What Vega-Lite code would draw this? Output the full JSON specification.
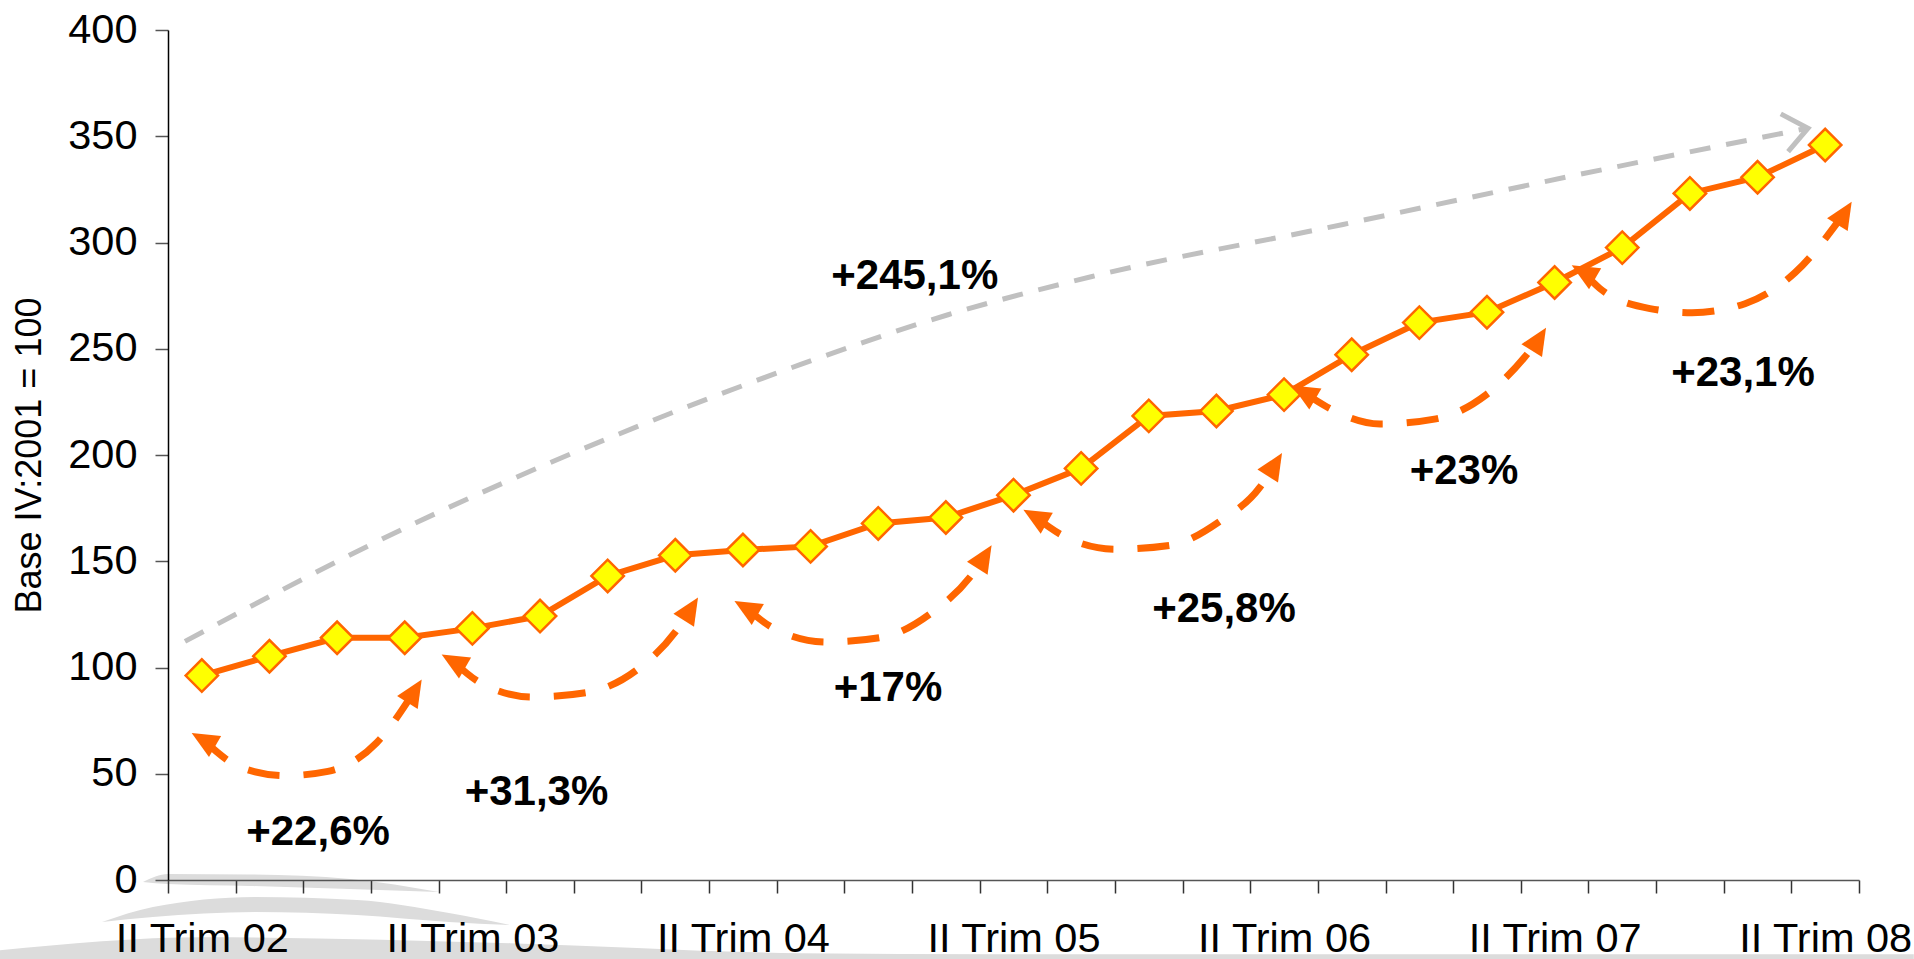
{
  "$schema": "https://vega.github.io/schema/vega-lite/v6.json",
  "autosize": "none",
  "width": 1691,
  "height": 850,
  "padding": {"left": 168, "top": 30, "right": 55, "bottom": 79},
  "background": "white",
  "config": {"view": {"stroke": null}, "font": "Liberation Sans"},
  "datasets": {
    "series": [
      {"quarter": "II Trim 02", "index": 96.2},
      {"quarter": "III Trim 02", "index": 105.3},
      {"quarter": "IV Trim 02", "index": 114.0},
      {"quarter": "I Trim 03", "index": 114.0},
      {"quarter": "II Trim 03", "index": 118.4},
      {"quarter": "III Trim 03", "index": 124.2},
      {"quarter": "IV Trim 03", "index": 143.1},
      {"quarter": "I Trim 04", "index": 152.8},
      {"quarter": "II Trim 04", "index": 155.3},
      {"quarter": "III Trim 04", "index": 157.0},
      {"quarter": "IV Trim 04", "index": 167.8},
      {"quarter": "I Trim 05", "index": 170.6},
      {"quarter": "II Trim 05", "index": 181.1},
      {"quarter": "III Trim 05", "index": 193.7},
      {"quarter": "IV Trim 05", "index": 218.4},
      {"quarter": "I Trim 06", "index": 220.7},
      {"quarter": "II Trim 06", "index": 228.4},
      {"quarter": "III Trim 06", "index": 247.2},
      {"quarter": "IV Trim 06", "index": 262.3},
      {"quarter": "I Trim 07", "index": 267.2},
      {"quarter": "II Trim 07", "index": 281.2},
      {"quarter": "III Trim 07", "index": 297.6},
      {"quarter": "IV Trim 07", "index": 323.1},
      {"quarter": "I Trim 08", "index": 330.7},
      {"quarter": "II Trim 08", "index": 345.9}
    ],
    "swoosh": [
      {"shape": "a", "x": -0.37, "top": -0.94, "bottom": -0.94},
      {"shape": "a", "x": 0.0, "top": 2.83, "bottom": -1.89},
      {"shape": "a", "x": 1.212, "top": 2.59, "bottom": -2.83},
      {"shape": "a", "x": 2.691, "top": 0.47, "bottom": -4.25},
      {"shape": "a", "x": 4.006, "top": -5.66, "bottom": -5.66},
      {"shape": "b", "x": -0.976, "top": -19.81, "bottom": -19.81},
      {"shape": "b", "x": -0.222, "top": -12.74, "bottom": -17.45},
      {"shape": "b", "x": 1.286, "top": -8.02, "bottom": -15.09},
      {"shape": "b", "x": 2.794, "top": -9.43, "bottom": -16.51},
      {"shape": "b", "x": 4.154, "top": -15.57, "bottom": -19.81},
      {"shape": "b", "x": 5.056, "top": -21.23, "bottom": -21.23},
      {"shape": "c", "x": -2.484, "top": -33.02, "bottom": -38.0},
      {"shape": "c", "x": 0.532, "top": -26.89, "bottom": -38.0},
      {"shape": "c", "x": 5.056, "top": -29.72, "bottom": -38.0},
      {"shape": "c", "x": 9.343, "top": -34.43, "bottom": -38.0},
      {"shape": "c", "x": 12.3, "top": -34.9, "bottom": -38.0},
      {"shape": "c", "x": 25.81, "top": -34.9, "bottom": -38.0}
    ],
    "arcs": [
      {"arc": 1, "x": 0.504, "y": 66.4},
      {"arc": 1, "x": 1.09, "y": 52.8},
      {"arc": 1, "x": 1.73, "y": 49.1},
      {"arc": 1, "x": 2.365, "y": 51.1},
      {"arc": 1, "x": 3.085, "y": 64.6},
      {"arc": 1, "x": 3.656, "y": 89.5},
      {"arc": 2, "x": 4.2, "y": 103.3},
      {"arc": 2, "x": 4.613, "y": 92.9},
      {"arc": 2, "x": 5.381, "y": 86.1},
      {"arc": 2, "x": 6.195, "y": 88.2},
      {"arc": 2, "x": 6.978, "y": 100.0},
      {"arc": 2, "x": 7.495, "y": 116.5},
      {"arc": 2, "x": 7.741, "y": 128.2},
      {"arc": 3, "x": 8.528, "y": 128.5},
      {"arc": 3, "x": 8.93, "y": 118.9},
      {"arc": 3, "x": 9.728, "y": 112.0},
      {"arc": 3, "x": 10.556, "y": 114.2},
      {"arc": 3, "x": 11.295, "y": 125.9},
      {"arc": 3, "x": 11.857, "y": 142.5},
      {"arc": 3, "x": 12.081, "y": 152.7},
      {"arc": 4, "x": 12.8, "y": 171.4},
      {"arc": 4, "x": 13.217, "y": 162.3},
      {"arc": 4, "x": 14.0, "y": 155.7},
      {"arc": 4, "x": 14.813, "y": 157.5},
      {"arc": 4, "x": 15.553, "y": 168.9},
      {"arc": 4, "x": 16.144, "y": 184.9},
      {"arc": 4, "x": 16.375, "y": 196.1},
      {"arc": 5, "x": 16.771, "y": 229.9},
      {"arc": 5, "x": 17.135, "y": 222.6},
      {"arc": 5, "x": 17.918, "y": 214.6},
      {"arc": 5, "x": 18.746, "y": 217.0},
      {"arc": 5, "x": 19.486, "y": 228.3},
      {"arc": 5, "x": 20.062, "y": 246.2},
      {"arc": 5, "x": 20.278, "y": 255.1},
      {"arc": 6, "x": 20.907, "y": 286.5},
      {"arc": 6, "x": 21.171, "y": 278.3},
      {"arc": 6, "x": 21.91, "y": 268.9},
      {"arc": 6, "x": 22.531, "y": 267.0},
      {"arc": 6, "x": 23.315, "y": 271.2},
      {"arc": 6, "x": 24.054, "y": 285.8},
      {"arc": 6, "x": 24.797, "y": 314.4}
    ],
    "leftHeads": [
      {"x": 0.35, "y": 69.2},
      {"x": 4.046, "y": 106.1},
      {"x": 8.374, "y": 131.3},
      {"x": 12.646, "y": 174.2},
      {"x": 16.617, "y": 232.7},
      {"x": 20.753, "y": 289.3}
    ],
    "rightHeads": [
      {"x": 3.751, "y": 94.3},
      {"x": 7.836, "y": 133.0},
      {"x": 12.176, "y": 157.5},
      {"x": 16.47, "y": 200.9},
      {"x": 20.373, "y": 259.9},
      {"x": 24.892, "y": 319.2}
    ],
    "trend": [
      {"x": 0.251, "y": 112.3},
      {"x": 3.652, "y": 167.9},
      {"x": 6.668, "y": 209.9},
      {"x": 9.344, "y": 242.5},
      {"x": 11.532, "y": 266.0},
      {"x": 13.661, "y": 284.0},
      {"x": 17.372, "y": 308.5},
      {"x": 20.875, "y": 332.1},
      {"x": 24.246, "y": 353.8}
    ],
    "trendHead": [{"x": 24.246, "y": 353.8}],
    "labels": [
      {"label": "+245,1%", "x": 11.04, "y": 278.3},
      {"label": "+22,6%", "x": 2.218, "y": 16.5},
      {"label": "+31,3%", "x": 5.448, "y": 35.4},
      {"label": "+17%", "x": 10.645, "y": 84.1},
      {"label": "+25,8%", "x": 15.612, "y": 121.2},
      {"label": "+23%", "x": 19.16, "y": 186.3},
      {"label": "+23,1%", "x": 23.285, "y": 232.7}
    ]
  },
  "resolve": {"scale": {"x": "independent", "y": "independent"}},
  "layer": [
    {
      "data": {"name": "swoosh"},
      "mark": {"type": "area", "interpolate": "monotone", "color": "#DCDCDC", "opacity": 1, "clip": false},
      "encoding": {
        "x": {"field": "x", "type": "quantitative", "scale": {"domain": [0, 25], "nice": false, "zero": false}, "axis": null},
        "y": {"field": "top", "type": "quantitative", "scale": {"domain": [0, 400], "nice": false}, "axis": null},
        "y2": {"field": "bottom"},
        "detail": {"field": "shape", "type": "nominal"}
      }
    },
    {
      "data": {"name": "trend"},
      "mark": {"type": "line", "interpolate": "monotone", "color": "#C0C0C0", "strokeWidth": 5, "strokeDash": [21, 16]},
      "encoding": {
        "x": {"field": "x", "type": "quantitative", "scale": {"domain": [0, 25], "nice": false, "zero": false}, "axis": null},
        "y": {"field": "y", "type": "quantitative", "scale": {"domain": [0, 400], "nice": false}, "axis": null}
      }
    },
    {
      "data": {"name": "trendHead"},
      "mark": {"type": "point", "shape": "M-1,-0.8L0,0L-1,0.8", "filled": false, "stroke": "#C0C0C0", "strokeWidth": 5, "size": 2304, "angle": -11, "opacity": 1},
      "encoding": {
        "x": {"field": "x", "type": "quantitative", "scale": {"domain": [0, 25], "nice": false, "zero": false}, "axis": null},
        "y": {"field": "y", "type": "quantitative", "scale": {"domain": [0, 400], "nice": false}, "axis": null}
      }
    },
    {
      "data": {"name": "series"},
      "encoding": {
        "x": {
          "field": "quarter", "type": "ordinal", "sort": null,
          "scale": {"type": "band", "paddingInner": 0, "paddingOuter": 0},
          "axis": {
            "title": null, "zindex": 1,
            "labelExpr": "test(/^II Trim/, datum.value) ? datum.value : ''",
            "labelFontSize": 41.5, "labelColor": "black", "labelPadding": 25, "labelAngle": 0,
            "labelOverlap": false, "labelFont": "Liberation Sans",
            "tickBand": "extent", "tickSize": 13, "tickColor": "#333333", "tickWidth": 1.5,
            "domainColor": "#555555", "domainWidth": 1.5, "grid": false
          }
        },
        "y": {
          "field": "index", "type": "quantitative",
          "scale": {"domain": [0, 400], "nice": false},
          "axis": {
            "zindex": 1,
            "values": [0, 50, 100, 150, 200, 250, 300, 350, 400],
            "labelFontSize": 41.5, "labelColor": "black", "labelPadding": 18, "labelFont": "Liberation Sans",
            "tickSize": 13, "tickColor": "#555555", "tickWidth": 1.5,
            "domainColor": "black", "domainWidth": 1.5, "grid": false,
            "title": "Base IV:2001 = 100", "titleFontSize": 36, "titleFontWeight": "normal",
            "titleColor": "black", "titlePadding": 19, "titleFont": "Liberation Sans"
          }
        }
      },
      "layer": [
        {"mark": {"type": "line", "color": "#FF6600", "strokeWidth": 6}},
        {"mark": {"type": "point", "shape": "diamond", "filled": true, "fill": "#FFFF00", "stroke": "#FF6600", "strokeWidth": 2.5, "size": 1050, "opacity": 1}}
      ]
    },
    {
      "data": {"name": "arcs"},
      "mark": {"type": "line", "interpolate": "monotone", "color": "#FF6600", "strokeWidth": 7, "strokeDash": [32, 24]},
      "encoding": {
        "x": {"field": "x", "type": "quantitative", "scale": {"domain": [0, 25], "nice": false, "zero": false}, "axis": null},
        "y": {"field": "y", "type": "quantitative", "scale": {"domain": [0, 400], "nice": false}, "axis": null},
        "detail": {"field": "arc", "type": "nominal"}
      }
    },
    {
      "data": {"name": "leftHeads"},
      "mark": {"type": "point", "shape": "M0,0L0.45,1L-0.45,1Z", "filled": true, "fill": "#FF6600", "strokeWidth": 0, "size": 2916, "angle": -60, "opacity": 1},
      "encoding": {
        "x": {"field": "x", "type": "quantitative", "scale": {"domain": [0, 25], "nice": false, "zero": false}, "axis": null},
        "y": {"field": "y", "type": "quantitative", "scale": {"domain": [0, 400], "nice": false}, "axis": null}
      }
    },
    {
      "data": {"name": "rightHeads"},
      "mark": {"type": "point", "shape": "M0,0L0.45,1L-0.45,1Z", "filled": true, "fill": "#FF6600", "strokeWidth": 0, "size": 2916, "angle": 32, "opacity": 1},
      "encoding": {
        "x": {"field": "x", "type": "quantitative", "scale": {"domain": [0, 25], "nice": false, "zero": false}, "axis": null},
        "y": {"field": "y", "type": "quantitative", "scale": {"domain": [0, 400], "nice": false}, "axis": null}
      }
    },
    {
      "data": {"name": "labels"},
      "mark": {"type": "text", "font": "Liberation Sans", "fontWeight": "bold", "fontSize": 42, "align": "center", "baseline": "alphabetic", "color": "black"},
      "encoding": {
        "x": {"field": "x", "type": "quantitative", "scale": {"domain": [0, 25], "nice": false, "zero": false}, "axis": null},
        "y": {"field": "y", "type": "quantitative", "scale": {"domain": [0, 400], "nice": false}, "axis": null},
        "text": {"field": "label", "type": "nominal"}
      }
    }
  ]
}
